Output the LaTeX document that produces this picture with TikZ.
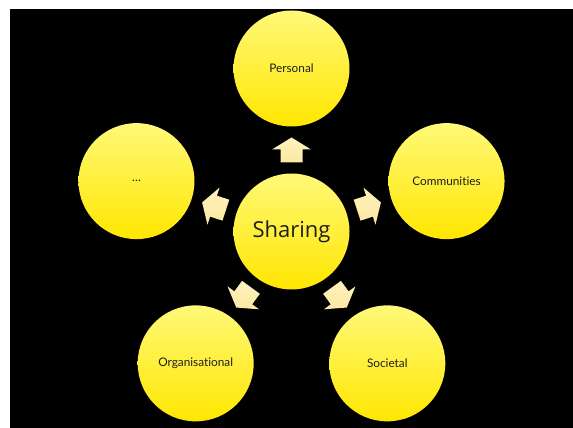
\documentclass[tikz,border=0pt]{standalone}
\usepackage{fontspec}
\usetikzlibrary{calc}
\setmainfont{Lato}[Ligatures={NoCommon,NoDiscretionary}]
\newfontfamily\sharefont{Open Sans}
\definecolor{ctop}{HTML}{FFF978}
\definecolor{cbot}{HTML}{FFE600}
\definecolor{atop}{HTML}{FFF2BC}
\definecolor{abot}{HTML}{FCE8A4}
\definecolor{txt}{HTML}{1E1E1E}
\tikzset{
  bubble/.style={circle, minimum size=116pt, inner sep=0pt, top color=ctop, bottom color=cbot, draw=none, text=txt, font=\fontsize{11.8}{14}\selectfont},
  hub/.style={bubble, font=\sharefont\fontsize{22}{26}\selectfont},
  blockarrow/.style={top color=atop, bottom color=abot, draw=none}
}
\begin{document}
\begin{tikzpicture}[x=1pt,y=1pt]
\useasboundingbox (0,0) rectangle (573,428);
\fill[black] (10,0) rectangle (573,419);
\node[hub] (s) at (291.5,196.5) {Sharing};
\node[bubble] (p) at ($(s.center)+(90:163)$) {Personal};
\node[bubble] (c) at ($(s.center)+(18:163)$) {Communities};
\node[bubble] (d) at ($(s.center)+(162:163)$) {\dots};
\node[bubble] (o) at ($(s.center)+(234:163)$) {Organisational};
\node[bubble] (q) at ($(s.center)+(306:163)$) {Societal};
\foreach \a in {90,18,162,234,306}{
  \begin{scope}[shift={(s.center)}, rotate=\a-90]
    \fill[blockarrow] (-11,69) -- (11,69) -- (11,82) -- (19.5,82) -- (0,94) -- (-19.5,82) -- (-11,82) -- cycle;
  \end{scope}
}
\end{tikzpicture}
\end{document}
